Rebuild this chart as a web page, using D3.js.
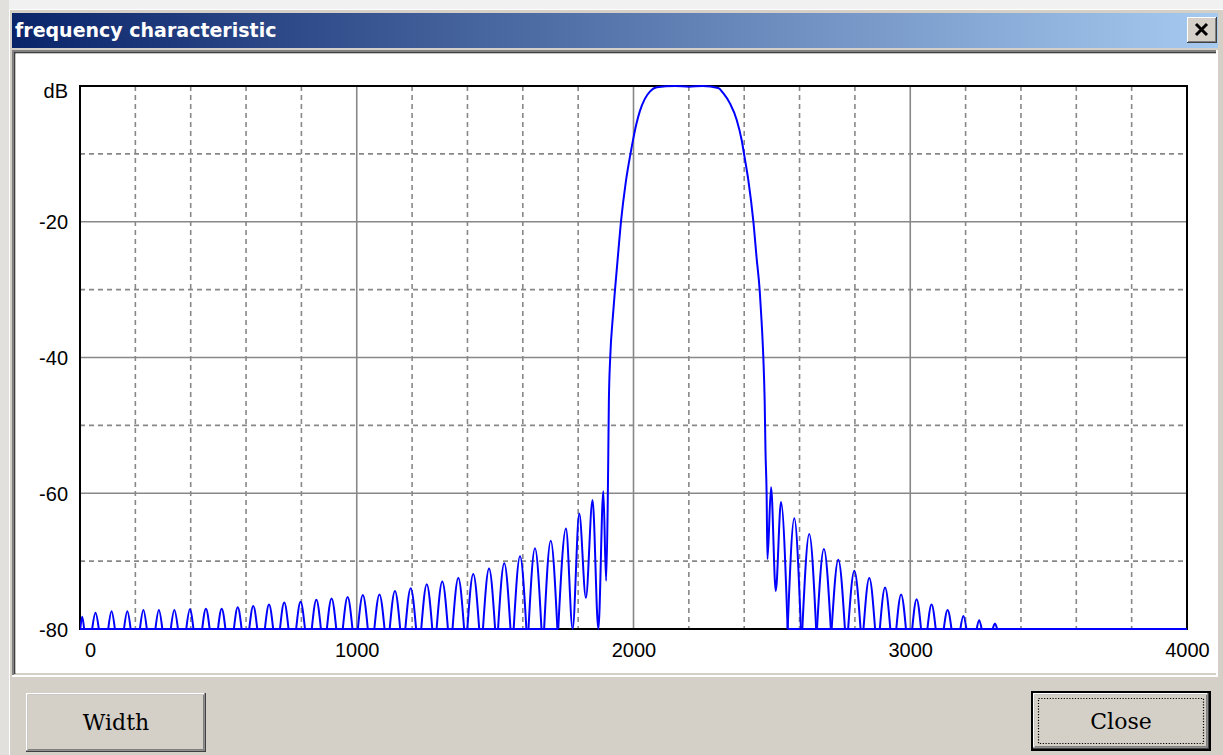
<!DOCTYPE html>
<html>
<head>
<meta charset="utf-8">
<script src="https://cdn.jsdelivr.net/npm/d3@7"></script>
<style>
  html, body { margin: 0; padding: 0; background: #d4d0c8; }
  svg { display: block; }
</style>
</head>
<body>
<svg id="chart" width="1223" height="755"></svg>
<script>
// ---------------- data ----------------
const titleText = "frequency characteristic";
const xTickValues = [0, 1000, 2000, 3000, 4000];
const yTickValues = [-80, -60, -40, -20, 0];
const yUnitLabel = "dB";
const xMinorGridHz = [200, 400, 600, 800, 1200, 1400, 1600, 1800, 2200, 2400, 2600, 2800, 3200, 3400, 3600, 3800];
const xMajorGridHz = [1000, 2000, 3000];
const yMinorGridDb = [-10, -30, -50, -70];
const yMajorGridDb = [-20, -40, -60];
const floorDb = -80;

// lower stop-band side lobes: centre frequency (Hz), peak level (dB), width at the -80 dB floor (Hz)
const lowLobeHz = [8, 56, 114, 171, 229, 285, 341, 397, 455, 512, 570, 626, 683, 738, 797, 854, 909, 967, 1022, 1082, 1138, 1195, 1253, 1309, 1367, 1421, 1478, 1533, 1590, 1644, 1701];
const lowLobeDb = [-78.2, -77.6, -77.4, -77.4, -77.2, -77.2, -77.2, -77.1, -77.0, -77.0, -76.8, -76.6, -76.4, -76.1, -76.0, -75.7, -75.5, -75.3, -75.0, -74.9, -74.4, -74.0, -73.4, -73.0, -72.5, -71.9, -71.1, -70.3, -69.3, -68.1, -67.0];
const lowLobeWidthHz = [14, 24, 24, 24, 25, 25, 26, 26, 27, 27, 28, 29, 30, 31, 32, 33, 34, 35, 36, 37, 38, 39, 40, 41, 42, 43, 44, 45, 46, 47, 48];

// transition bands and pass band (Hz, dB)
const bandHz = [1728, 1756, 1780, 1804, 1828, 1852, 1873, 1891, 1901, 1907, 1909, 1911, 1916, 1925, 1933, 1943, 1955, 1972, 1989, 2000, 2011, 2023, 2041, 2060, 2084, 2150, 2200, 2250, 2306, 2325, 2349, 2373, 2391, 2401, 2415, 2433, 2445, 2456, 2463, 2469, 2474, 2477, 2481, 2484, 2497, 2514, 2533, 2557];
const bandDb = [-80, -65.2, -80, -63.0, -75.4, -61.0, -80, -59.7, -72.9, -61.2, -53.9, -46.5, -39.9, -34.2, -30.1, -25.4, -19.9, -14.2, -10.0, -7.6, -5.5, -3.7, -1.9, -0.8, -0.2, 0, -0.1, 0, -0.3, -1.1, -2.6, -5.0, -8.0, -10.4, -13.9, -19.9, -25.4, -30.1, -34.8, -39.9, -46.5, -53.9, -60.0, -69.7, -59.1, -74.4, -61.3, -80];

// upper stop-band side lobes
const highLobeHz = [2581, 2635, 2688, 2740, 2798, 2852, 2909, 2967, 3023, 3077, 3135, 3192, 3249, 3306];
const highLobeDb = [-63.7, -66.0, -68.2, -69.8, -71.4, -72.5, -73.9, -74.9, -75.6, -76.4, -77.2, -78.1, -78.7, -79.2];
const highLobeWidthHz = [48, 50, 50, 48, 45, 42, 38, 35, 32, 30, 28, 22, 18, 16];

const buttonLabels = ["Width", "Close"];

// ---------------- drawing ----------------
const svg = d3.select("#chart");
const W = 1223, H = 755;

// window chrome
svg.append("rect").attr("x", 0).attr("y", 0).attr("width", W).attr("height", H).attr("fill", "#d4d0c8");
svg.append("rect").attr("x", 0).attr("y", 0).attr("width", W).attr("height", 9).attr("fill", "#f1f1f1");
svg.append("rect").attr("x", 0).attr("y", 0).attr("width", 9).attr("height", H).attr("fill", "#e2e0dc");
svg.append("line").attr("x1", 9.5).attr("y1", 9.5).attr("x2", W).attr("y2", 9.5).attr("stroke", "#ffffff");
svg.append("line").attr("x1", 9.5).attr("y1", 9.5).attr("x2", 9.5).attr("y2", H).attr("stroke", "#ffffff");

const defs = svg.append("defs");
const grad = defs.append("linearGradient").attr("id", "titleGrad").attr("x1", "0%").attr("x2", "100%");
grad.append("stop").attr("offset", "0%").attr("stop-color", "#0a246a");
grad.append("stop").attr("offset", "100%").attr("stop-color", "#a6caf0");

svg.append("rect").attr("x", 12).attr("y", 13).attr("width", 1206).attr("height", 35).attr("fill", "url(#titleGrad)");
svg.append("text").attr("x", 15).attr("y", 37)
  .attr("font-family", "'DejaVu Sans', Verdana, sans-serif").attr("font-weight", "bold")
  .attr("font-size", 19).attr("fill", "#ffffff").text(titleText);

// title close box
const cb = svg.append("g").attr("transform", "translate(1187,17)");
cb.append("rect").attr("width", 30).attr("height", 26).attr("fill", "#404040");
cb.append("rect").attr("width", 29).attr("height", 25).attr("fill", "#ffffff");
cb.append("rect").attr("x", 1).attr("y", 1).attr("width", 28).attr("height", 24).attr("fill", "#808080");
cb.append("rect").attr("x", 1).attr("y", 1).attr("width", 27).attr("height", 23).attr("fill", "#d4d0c8");
cb.append("path").attr("d", "M9,7 L20,18 M20,7 L9,18").attr("stroke", "#000").attr("stroke-width", 3).attr("fill", "none");

// client panel (sunken)
svg.append("rect").attr("x", 12).attr("y", 50).attr("width", 1206).attr("height", 627).attr("fill", "#ffffff");
svg.append("rect").attr("x", 13).attr("y", 51).attr("width", 1203).attr("height", 624).attr("fill", "#d4d0c8");
svg.append("rect").attr("x", 12).attr("y", 50).attr("width", 1204).attr("height", 2).attr("fill", "#808080");
svg.append("rect").attr("x", 12).attr("y", 50).attr("width", 2).attr("height", 625).attr("fill", "#808080");
svg.append("rect").attr("x", 14).attr("y", 52).attr("width", 1202).attr("height", 1.5).attr("fill", "#404040");
svg.append("rect").attr("x", 14).attr("y", 52).attr("width", 1.5).attr("height", 622).attr("fill", "#404040");
svg.append("rect").attr("x", 15.5).attr("y", 53.5).attr("width", 1200.5).attr("height", 619.5).attr("fill", "#ffffff");

// plot
const x = d3.scaleLinear().domain([0, 4000]).range([80, 1187]);
const y = d3.scaleLinear().domain([-80, 0]).range([629, 86]);

const grid = svg.append("g");
grid.selectAll(".vminor").data(xMinorGridHz).join("line")
  .attr("x1", d => x(d)).attr("x2", d => x(d)).attr("y1", y(0)).attr("y2", y(-80))
  .attr("stroke", "#888888").attr("stroke-width", 1.6).attr("stroke-dasharray", "5,4");
grid.selectAll(".hminor").data(yMinorGridDb).join("line")
  .attr("x1", x(0)).attr("x2", x(4000)).attr("y1", d => y(d)).attr("y2", d => y(d))
  .attr("stroke", "#888888").attr("stroke-width", 1.6).attr("stroke-dasharray", "5,4");
grid.selectAll(".vmajor").data(xMajorGridHz).join("line")
  .attr("x1", d => x(d)).attr("x2", d => x(d)).attr("y1", y(0)).attr("y2", y(-80))
  .attr("stroke", "#888888").attr("stroke-width", 1.6);
grid.selectAll(".hmajor").data(yMajorGridDb).join("line")
  .attr("x1", x(0)).attr("x2", x(4000)).attr("y1", d => y(d)).attr("y2", d => y(d))
  .attr("stroke", "#888888").attr("stroke-width", 1.6);

svg.append("rect").attr("x", x(0)).attr("y", y(0)).attr("width", x(4000) - x(0)).attr("height", y(-80) - y(0))
  .attr("fill", "none").attr("stroke", "#000").attr("stroke-width", 2);

// axes (labels only)
const xAxis = svg.append("g").attr("transform", `translate(0,${y(-80) + 13})`)
  .call(d3.axisBottom(x).tickValues(xTickValues).tickSize(0).tickPadding(0).tickFormat(d3.format("d")));
xAxis.select(".domain").remove();
xAxis.selectAll("text").attr("font-family", "'Liberation Sans', Arial, sans-serif").attr("font-size", 20).attr("fill", "#000")
  .attr("dy", "0.75em")
  .attr("dx", d => d === 0 ? 10 : 0);

const yAxis = svg.append("g").attr("transform", `translate(${x(0) - 12},0)`)
  .call(d3.axisLeft(y).tickValues(yTickValues).tickSize(0).tickPadding(0)
    .tickFormat(d => d === 0 ? yUnitLabel : String(d)));
yAxis.select(".domain").remove();
yAxis.selectAll("text").attr("font-family", "'Liberation Sans', Arial, sans-serif").attr("font-size", 20).attr("fill", "#000")
  .attr("dy", d => d === 0 ? "0.55em" : "0.35em");

// response curve
defs.append("clipPath").attr("id", "plotClip").append("rect")
  .attr("x", x(0)).attr("y", y(0) - 2).attr("width", x(4000) - x(0)).attr("height", y(-80) - y(0) + 4);
const curveG = svg.append("g").attr("clip-path", "url(#plotClip)")
  .attr("fill", "none").attr("stroke", "#0000ff").attr("stroke-width", 2).attr("stroke-linejoin", "round");

// floor (-80 dB) outside the main band
const straight = d3.line().x(d => x(d[0])).y(d => y(d[1]));
curveG.append("path").datum([[0, floorDb], [bandHz[0], floorDb]]).attr("d", straight);
curveG.append("path").datum([[bandHz[bandHz.length - 1], floorDb], [4000, floorDb]]).attr("d", straight);

// side lobes as arches
const arch = d3.line().x(d => x(d[0])).y(d => y(d[1])).curve(d3.curveNatural);
const lobes = [];
lowLobeHz.forEach((c, i) => lobes.push({ c, db: lowLobeDb[i], w: lowLobeWidthHz[i] }));
highLobeHz.forEach((c, i) => lobes.push({ c, db: highLobeDb[i], w: highLobeWidthHz[i] }));
curveG.selectAll(".lobe").data(lobes).join("path").attr("class", "lobe")
  .attr("d", d => arch([[d.c - d.w / 2, floorDb], [d.c, d.db], [d.c + d.w / 2, floorDb]]));

// transition bands and pass band
const bandLine = d3.line().x(d => x(d[0])).y(d => y(d[1])).curve(d3.curveMonotoneX);
curveG.append("path").datum(bandHz.map((f, i) => [f, bandDb[i]])).attr("d", bandLine);

// buttons
function raisedButton(x0, y0, w, h, label, isDefault) {
  const g = svg.append("g").attr("transform", `translate(${x0},${y0})`);
  let ox = 0, oy = 0, bw = w, bh = h;
  if (isDefault) {
    g.append("rect").attr("width", w).attr("height", h).attr("fill", "#000");
    ox = 2; oy = 2; bw = w - 4; bh = h - 4;
  }
  g.append("rect").attr("x", ox).attr("y", oy).attr("width", bw).attr("height", bh).attr("fill", "#404040");
  g.append("rect").attr("x", ox).attr("y", oy).attr("width", bw - 1.5).attr("height", bh - 1.5).attr("fill", "#ffffff");
  g.append("rect").attr("x", ox + 1.5).attr("y", oy + 1.5).attr("width", bw - 3).attr("height", bh - 3).attr("fill", "#808080");
  g.append("rect").attr("x", ox + 1.5).attr("y", oy + 1.5).attr("width", bw - 4.5).attr("height", bh - 4.5).attr("fill", "#d4d0c8");
  if (isDefault) {
    g.append("rect").attr("x", 7.5).attr("y", 7.5).attr("width", w - 15).attr("height", h - 15)
      .attr("fill", "none").attr("stroke", "#000").attr("stroke-width", 1.2).attr("stroke-dasharray", "1.2,1.6");
  }
  g.append("text").attr("x", w / 2).attr("y", h / 2).attr("dy", "0.36em").attr("text-anchor", "middle")
    .attr("font-family", "'DejaVu Serif', 'Liberation Serif', serif").attr("font-size", 22).attr("fill", "#000")
    .text(label);
}
raisedButton(26, 693, 180, 59, buttonLabels[0], false);
raisedButton(1031, 691, 180, 60, buttonLabels[1], true);
</script>
</body>
</html>
